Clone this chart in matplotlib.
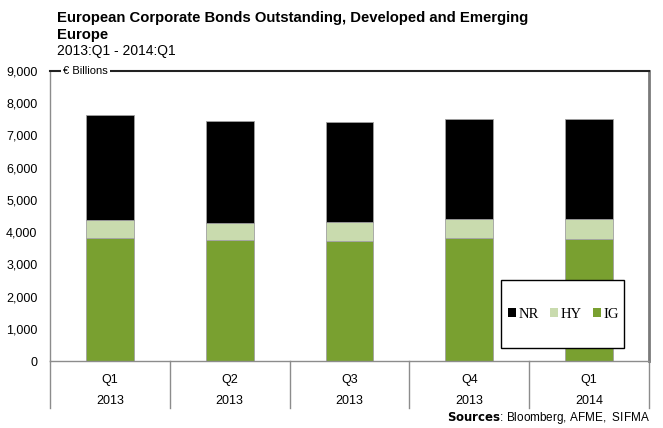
import matplotlib
matplotlib.use("Agg")
import matplotlib.pyplot as plt
import matplotlib.transforms as mtransforms
from matplotlib.patches import Rectangle
import numpy as np

plt.rcParams['font.family'] = ['Liberation Sans', 'DejaVu Sans']

# Quarterly outstanding amounts, EUR billions
quarters = ["Q1", "Q2", "Q3", "Q4", "Q1"]
years = ["2013", "2013", "2013", "2013", "2014"]
ig = [3827, 3755, 3734, 3827, 3796]
hy = [540, 519, 571, 580, 602]
nr = [3268, 3165, 3103, 3094, 3103]

ig_color = "#79a030"
hy_color = "#c9dbae"
nr_color = "#000000"

fig = plt.figure(figsize=(6.63, 4.28), dpi=100)
W, H = 663, 428
ax = fig.add_axes([50 / W, (H - 361) / H, (649 - 50) / W, (361 - 71) / H])

x = np.arange(len(quarters))
w = 0.4
edge = "#a0a0a0"
ax.bar(x, ig, w, color=ig_color, edgecolor=edge, linewidth=0.6, label="IG")
ax.bar(x, hy, w, bottom=ig, color=hy_color, edgecolor=edge, linewidth=0.6, label="HY")
bottom_nr = np.array(ig) + np.array(hy)
ax.bar(x, nr, w, bottom=bottom_nr, color=nr_color, edgecolor=edge, linewidth=0.6, label="NR")

ax.set_xlim(-0.5, len(quarters) - 0.5)
ax.set_ylim(0, 9000)
ax.set_yticks(range(0, 9001, 1000))
ax.set_yticklabels([f"{v:,}" for v in range(0, 9001, 1000)], fontsize=9)
ax.tick_params(axis="y", length=0, pad=9)
ax.set_xticks([])

for side in ["left", "bottom"]:
    ax.spines[side].set_color("#8c8c8c")
    ax.spines[side].set_linewidth(1.0)
ax.spines["right"].set_color("#7a7a7a")
ax.spines["right"].set_linewidth(2.0)
ax.spines["top"].set_color("#222222")
ax.spines["top"].set_linewidth(1.5)

# category dividers and two-row labels under the axis
trans = mtransforms.blended_transform_factory(ax.transData, ax.transAxes)
drop = -(408 - 361) / 290
for k in range(len(quarters) + 1):
    ax.plot([k - 0.5, k - 0.5], [0, drop], color="#8c8c8c", lw=1.0,
            transform=trans, clip_on=False)
for i, (q, yr) in enumerate(zip(quarters, years)):
    ax.text(i, -(380 - 361) / 290, q, transform=trans, ha="center", va="center", fontsize=9)
    ax.text(i, -(401 - 361) / 290, yr, transform=trans, ha="center", va="center", fontsize=9)

# unit label sitting on the top frame line
ax.text(0.022, 1.0, "€ Billions", transform=ax.transAxes, ha="left", va="center",
        fontsize=8, bbox=dict(facecolor="white", edgecolor="none", pad=1.5))

# legend: white box with the entries centred inside
bx0, bx1 = (501 - 50) / 599, (624 - 50) / 599
by0, by1 = (361 - 348) / 290, (361 - 280) / 290
ax.add_patch(Rectangle((bx0, by0), bx1 - bx0, by1 - by0, transform=ax.transAxes,
                       facecolor="white", edgecolor="black", linewidth=1.0,
                       zorder=5, clip_on=False))
handles, labels = ax.get_legend_handles_labels()
leg = ax.legend(handles[::-1], labels[::-1], ncol=3, loc="center",
                bbox_to_anchor=((bx0 + bx1) / 2 + 0.002, (by0 + by1) / 2),
                prop={"family": "Liberation Serif", "size": 10.5},
                frameon=False, handlelength=0.55, handleheight=0.55,
                handletextpad=0.15, columnspacing=0.8, borderpad=0,
                borderaxespad=0)
leg.set_zorder(6)
for p in leg.get_patches():
    p.set_edgecolor("none")

fig.text(57 / W, 1 - 18 / H, "European Corporate Bonds Outstanding, Developed and Emerging",
         fontsize=10.7, fontweight="bold", va="center", ha="left")
fig.text(57 / W, 1 - 35 / H, "Europe", fontsize=10.7, fontweight="bold", va="center", ha="left")
fig.text(57 / W, 1 - 51 / H, "2013:Q1 - 2014:Q1", fontsize=10, va="center", ha="left")

fig.text(650 / W, 1 - 418 / H, r"$\bf{Sources}$: Bloomberg, AFME,  SIFMA",
         fontsize=8.5, ha="right", va="center")

fig.savefig("out.png", dpi=100)
